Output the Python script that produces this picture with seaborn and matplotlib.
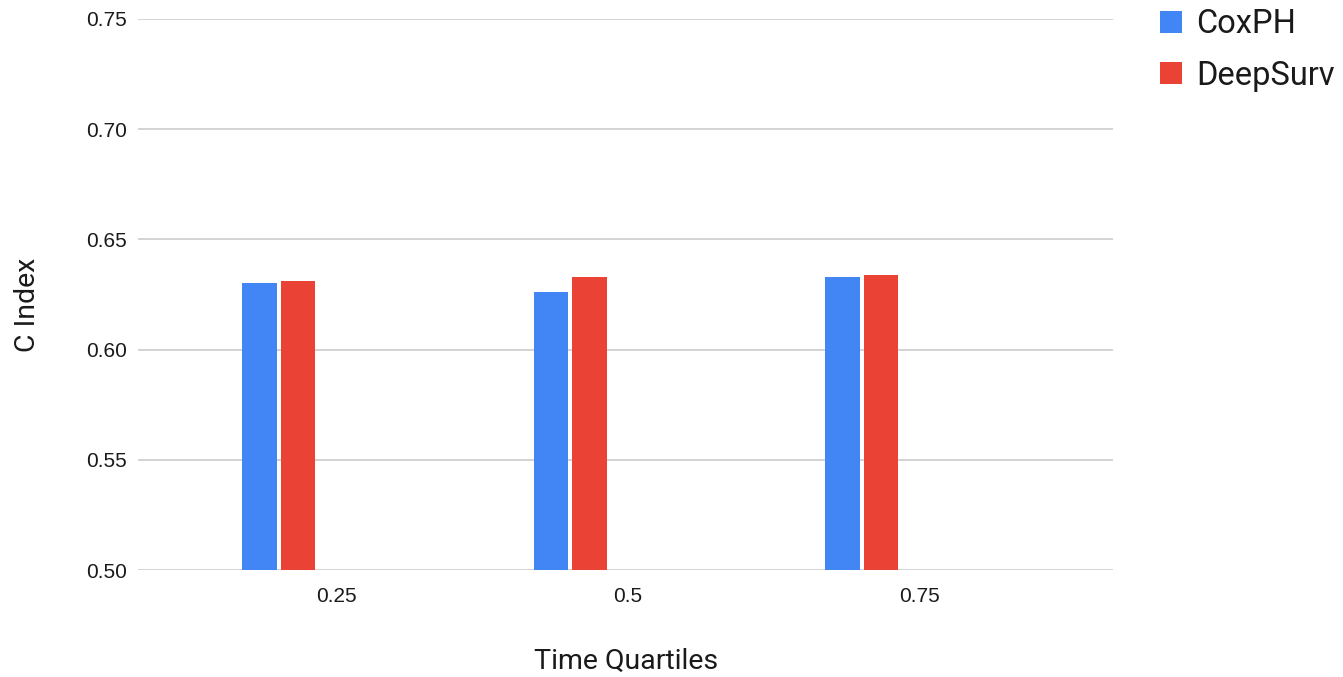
import matplotlib
matplotlib.use("Agg")
import matplotlib.pyplot as plt
from matplotlib.patches import Patch
import seaborn as sns
import pandas as pd

# ---- data ----
quartiles = ["0.25", "0.5", "0.75"]
coxph = [0.630, 0.626, 0.633]
deepsurv = [0.631, 0.633, 0.634]
series = ["CoxPH", "DeepSurv"]
# Google-Sheets layout reserves five series slots per group; the last three are empty
slots = series + ["_empty1", "_empty2", "_empty3"]
colors = {"CoxPH": "#4285F4", "DeepSurv": "#EA4335",
          "_empty1": "#ffffff", "_empty2": "#ffffff", "_empty3": "#ffffff"}
yticks = [0.50, 0.55, 0.60, 0.65, 0.70, 0.75]

df = pd.DataFrame({
    "Time Quartiles": quartiles * 2,
    "C Index": coxph + deepsurv,
    "Model": ["CoxPH"] * 3 + ["DeepSurv"] * 3,
})

sns.set_theme(style="white")
plt.rcParams["font.family"] = ["Roboto", "DejaVu Sans"]

fig = plt.figure(figsize=(13.43, 6.77), dpi=100)
ax = fig.add_axes([0.1028, 0.158, 0.7259, 0.814])

sns.barplot(data=df, x="Time Quartiles", y="C Index", hue="Model",
            order=quartiles, hue_order=slots, palette=colors,
            width=0.66, gap=0.1, dodge=True, legend=False, ax=ax,
            errorbar=None, linewidth=0, saturation=1)

ax.set_ylim(0.5, 0.75)
ax.set_yticks(yticks)
ax.set_yticklabels([f"{v:.2f}" for v in yticks])
ax.set_xlim(-0.681, 2.664)
ax.yaxis.grid(True, color="#cccccc", linewidth=1.2)
ax.set_axisbelow(True)
for s in ax.spines.values():
    s.set_visible(False)
tick_font = ["Liberation Sans", "DejaVu Sans"]
ax.tick_params(axis="y", length=0, pad=8, labelsize=15, labelcolor="#1a1a1a")
ax.tick_params(axis="x", length=0, pad=12, labelsize=15, labelcolor="#1a1a1a")
for lab in ax.get_xticklabels() + ax.get_yticklabels():
    lab.set_family(tick_font)
ax.set_xlabel("Time Quartiles", fontsize=20.5, color="#1a1a1a")
ax.set_ylabel("C Index", fontsize=20.5, color="#1a1a1a")
ax.xaxis.set_label_coords(0.5005, -0.165)
ax.yaxis.set_label_coords(-0.113, 0.481)
ax.xaxis.label.set_verticalalignment("center")
ax.yaxis.label.set_verticalalignment("center")

handles = [Patch(facecolor=colors[s], edgecolor="none", label=s) for s in series]
fig.legend(handles=handles, loc="upper left", bbox_to_anchor=(0.8637, 0.988),
           frameon=False, fontsize=23.5, handlelength=0.67, handleheight=0.67,
           handletextpad=0.45, labelspacing=0.6, labelcolor="#1a1a1a",
           borderpad=0, borderaxespad=0)

fig.savefig("out.png", dpi=100, facecolor="white")
